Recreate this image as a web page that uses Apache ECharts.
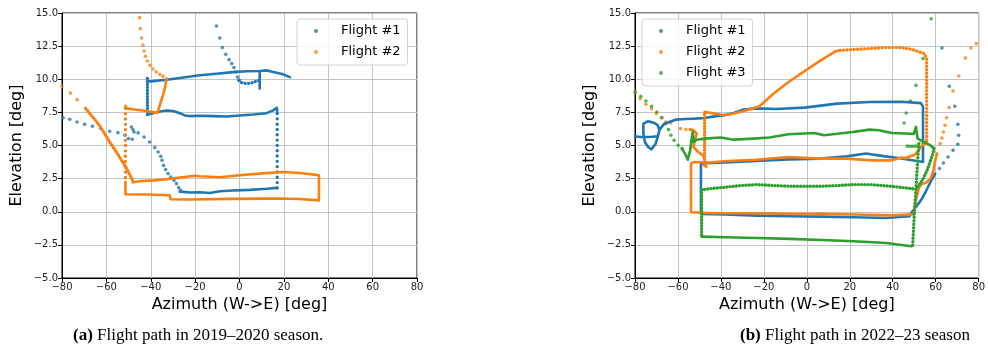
<!DOCTYPE html>
<html>
<head>
<meta charset="utf-8">
<script src="https://cdn.jsdelivr.net/npm/echarts@6/dist/echarts.min.js"></script>
<style>
  html, body { margin: 0; padding: 0; background: #fff; }
  #chart { width: 988px; height: 360px; }
</style>
</head>
<body>
<div id="chart"></div>
<script>
// tick labels
const xTicks = [-80, -60, -40, -20, 0, 20, 40, 60, 80];
const yTicks = [-5, -2.5, 0, 2.5, 5, 7.5, 10, 12.5, 15];
const flights = ['Flight #1', 'Flight #2', 'Flight #3'];
const colors = ['#1f77b4', '#ff7f0e', '#2ca02c'];

// ---- (a) 2019-2020, flight #1 ----
const a1Sparse = [[-79.5,7.1],[-76.5,6.98],[-73.2,6.77],[-69.8,6.6],[-66.3,6.45],[-62.6,6.3],[-58.5,6.07],
  [-54.8,5.97],[-51.7,5.77],[-50,5.52],[-48.3,5.47],[-48.7,6.4],[-48,6.2],[-47.5,6.02],[-45.7,5.95],
  [-43,5.64],[-40.5,5.26],[-38.2,4.84],[-36.7,4.51],[-35.5,4.18],[-34.9,3.88],[-34.2,3.5],[-33.3,3.18],
  [-32.2,2.88],[-31,2.62],[-29.5,2.37],[-28.4,2.12],[-27.4,1.82],[-26.6,1.62],
  [-10.4,14.02],[-8.9,13.11],[-7.7,12.39],[-6.2,11.88],[-4.7,11.48],[-3.5,11.18],[-2.5,10.88],[-1.7,10.55],
  [-0.9,10.17],[-0.2,9.92]];
const a1Bottom = [[-26.9,1.52],[-22,1.45],[-17.9,1.47],[-13.4,1.42],[-8.9,1.55],[-2.9,1.6],[4.7,1.65],[12.2,1.73],[16.9,1.8]];
const a1Drop = [[17,1.8],[17,7.6]];
const a1Mid = [[17,7.6],[16.8,7.85],[15.2,7.65],[12.2,7.44],[6.2,7.34],[0.2,7.27],[-5.9,7.19],[-11.9,7.22],
  [-17.9,7.24],[-22.4,7.22],[-24.7,7.27],[-26.9,7.44],[-29.9,7.6],[-32.9,7.64],[-35.9,7.57],[-38.9,7.44],[-41.5,7.34]];
const a1Rise = [[-41.5,7.34],[-41.5,10.07]];
const a1Top = [[-41.5,9.84],[-38.9,9.86],[-32.9,9.96],[-26.9,10.1],[-17.9,10.3],[-10.4,10.42],[-2.9,10.54],
  [3.2,10.6],[9.2,10.62],[12.2,10.67],[15.2,10.54],[19.7,10.37],[22.7,10.16]];
const a1Hook = [[-0.2,9.92],[0.8,9.75],[3.1,9.67],[5.4,9.72],[7.6,9.85],[8.8,9.92]];
const a1HookBar = [[9.1,10.6],[9.1,9.3]];

// ---- (a) 2019-2020, flight #2 ----
const a2Sparse = [[-45,14.65],[-44.7,13.82],[-44.1,13.11],[-43.5,12.58],[-43,12.13],[-42.4,11.73],[-41.5,11.38],
  [-40.3,11.05],[-39,10.77],[-37.5,10.55],[-35.9,10.37],[-34.5,10.22],
  [-73.2,8.46],[-76.2,8.96],[-80,9.47]];
const a2Drop = [[-32.9,10.05],[-33.7,9.29],[-34.5,8.79],[-35.5,8.28],[-36.4,7.78],[-37,7.45],
  [-38.2,7.5],[-42.7,7.62],[-47.2,7.72],[-51,7.8],[-51.4,8.0]];
const a2Fall = [[-51.4,7.8],[-51.4,2.25]];
const a2Box = [[-51.4,2.25],[-51.4,1.32],[-41.2,1.3],[-31.5,1.24],[-31,0.94],[-23.2,0.92],[-2.9,0.97],
  [12.1,0.99],[18.1,1.0],[27.1,0.96],[35.8,0.86],[35.8,2.75],[34.6,2.78],[27.1,2.92],[19.6,3.0],[9.1,2.88],
  [0.1,2.75],[-8.9,2.6],[-18,2.68],[-20.2,2.72],[-24.7,2.62],[-30.7,2.5],[-38.2,2.37],[-44.2,2.32],[-48,2.22],[-48.5,2.5]];
const a2Slope = [[-48.5,2.5],[-49.9,2.93],[-51.4,3.43],[-53.2,3.88],[-55,4.39],[-57,4.89],[-59,5.39],
  [-60.8,5.9],[-62.7,6.4],[-64.9,6.9],[-67.5,7.41],[-70.1,7.96]];

// ---- (b) 2022-23, flight #1 ----
const b1Track = [[-80,5.7],[-77.6,5.64],[-75.3,5.64],[-72,5.66],[-69.4,5.7],[-68.6,6.15],[-69.4,6.52],
  [-70.9,6.7],[-73.9,6.83],[-76.1,6.65],[-76.1,5.9],[-75.4,5.26],[-73.9,4.89],[-72.3,4.71],[-70.4,5.14],
  [-69.4,5.64],[-68.6,6.2],[-66.3,6.65],[-64.1,6.77],[-61.1,6.95],[-56.6,7.0],[-52.1,7.03],[-47.6,7.08],
  [-43,7.2],[-38.5,7.28],[-34,7.45],[-29.5,7.71],[-25,7.78],[-19,7.78],[-14.5,7.75],[-1,7.86],[14,8.16],
  [29.1,8.28],[44.1,8.3],[53.1,8.2],[54.1,7.95],[54.1,3.75],[50.5,3.85],[42.6,4.06],[36.5,4.18],[27.5,4.39],
  [18.5,4.18],[6.5,4.01],[-8.5,3.95],[-23.5,3.83],[-38.2,3.72],[-47.2,3.66],[-49.3,3.6],[-49.3,-0.16],
  [-38.2,-0.21],[-23.2,-0.29],[-8.1,-0.34],[6.9,-0.37],[21.9,-0.42],[37,-0.47],[47.8,-0.34],[48.9,-0.02],
  [50.8,0.36],[53.1,0.86],[55.3,1.49],[57.6,2.25],[59.8,2.88]];
const b1Sparse = [[61.8,3.26],[63.6,3.68],[65.8,4.13],[68.1,4.64],[70.3,5.09],[70.7,5.77],[70.3,6.6],
  [68.9,7.96],[66.3,9.47],[62.9,12.36]];

// ---- (b) 2022-23, flight #2 ----
const b2Sparse = [[-79.9,9.04],[-77.6,8.54],[-74.9,8.11],[-72.3,7.78],[-70.1,7.41],[-67.8,7.1],[-65.6,6.77],
  [-63.3,6.7],[-58.8,6.27],[-56.3,6.2],[-54.3,6.2],
  [62.1,5.14],[62.9,5.57],[63.6,6.02],[64.3,6.52],[65.1,7.1],[66.3,7.86],[68.1,9.11],[70.8,10.25],
  [73.8,11.6],[76.4,12.36],[78.9,12.69]];
const b2Loop = [[-54.3,6.2],[-52.8,6.15],[-51.3,5.9],[-52.1,5.39],[-52.8,4.89],[-50.6,4.51],[-48.3,4.26],[-47.3,3.75],[-46.8,3.38]];
const b2Up = [[-47.6,3.5],[-47.6,7.53]];
const b2Climb = [[-47.6,7.53],[-43,7.41],[-38.5,7.28],[-34,7.41],[-28,7.66],[-22,7.96],[-16,8.85],[-8.5,9.79],
  [-1,10.62],[6.5,11.43],[13.3,12.11],[15.5,12.18]];
const b2Ceiling = [[15.5,12.18],[21.5,12.24],[36.5,12.39],[44.1,12.39],[49,12.25],[54.6,11.94],[55.8,11.6],[55.8,5.3]];
const b2Track = [[55.8,5.3],[53.1,4.89],[50.5,4.32],[46,4.05],[44.1,4.09],[39.6,3.88],[30.5,3.88],[18.5,4.01],
  [6.5,4.01],[-8.5,4.13],[-23.5,3.93],[-37,3.83],[-45.7,3.72],[-52.8,3.75],[-53.9,3.6],[-53.9,-0.04],
  [-45.7,-0.09],[-38.2,-0.11],[-23.2,-0.11],[-8.1,-0.16],[6.9,-0.16],[21.9,-0.21],[39.6,-0.27],[49.8,-0.2],
  [50.4,0.62],[52.3,1.87],[53.8,2.12],[55.3,2.17],[57.6,2.5],[58.8,3.0],[59.8,3.88],[60.6,4.39]];

// ---- (b) 2022-23, flight #3 ----
const b3Sparse = [[-79.9,9.0],[-77.3,8.71],[-74.9,8.36],[-72.3,7.96],[-69.8,7.53],[-67.4,7.1],[-65.6,6.65],
  [-64.4,6.2],[-63.3,5.77],[-61.8,5.39],[-59.9,5.01],[-58.1,4.77],
  [45.3,6.7],[46.3,7.45],[48.3,8.36],[50.8,9.54],[54.1,11.56],[57.9,14.57],
  [46.8,4.95],[48,4.94],[49.2,4.94],[50.4,4.95],[51.6,4.96]];
const b3Upper = [[-58.1,4.77],[-56.3,4.26],[-55.4,3.93],[-54.3,4.64],[-53.6,5.52],[-53.1,6.02],[-52.7,5.26],
  [-51.3,5.44],[-47.6,5.52],[-40.1,5.6],[-34,5.44],[-25,5.52],[-17.5,5.6],[-8.5,5.85],[3.5,5.94],[8,5.77],
  [21.5,6.02],[29.1,6.2],[33.6,6.15],[39.6,5.94],[45.6,5.9],[49.8,5.88],[50.8,6.4],[51.6,5.52],[53.1,5.39],
  [54.6,5.26],[57.6,5.01],[59.1,4.77]];
const b3Lower = [[59.1,4.77],[58.8,4.4],[57.6,3.88],[56,3.13],[53.8,2.37],[50.8,1.7],[48.6,1.75],[39.6,1.92],
  [29.5,2.05],[21.9,2.05],[14.4,1.98],[6.9,1.93],[-8.1,1.93],[-15.6,1.98],[-23.2,2.05],[-30.7,1.98],
  [-38.2,1.85],[-45.7,1.73],[-49,1.65]];
const b3Down = [[-49,1.65],[-49,-1.88]];
const b3Bottom = [[-49,-1.88],[-38.2,-1.93],[-23.2,-1.98],[-8.1,-2.05],[6.9,-2.13],[21.9,-2.23],[37,-2.36],
  [48.6,-2.6],[49.3,-2.53]];
const b3Return = [[49.3,-2.53],[50.1,0],[50.8,1.75],[51.6,3.88],[52.3,5.4]];

const fmt = v => (Number.isInteger(v) ? String(v) : v.toFixed(1)).replace('-', '\u2212');
const fmtY = v => v.toFixed(1).replace('-', '\u2212');

function dots(fi, gi, data) {
  return {
    name: flights[fi], type: 'scatter', xAxisIndex: gi, yAxisIndex: gi, data,
    symbolSize: 3.6, itemStyle: { color: colors[fi] }, silent: true
  };
}
function path(fi, gi, data, gap) {
  return {
    name: flights[fi], type: 'line', xAxisIndex: gi, yAxisIndex: gi, data,
    showSymbol: false, symbol: 'none', silent: true,
    itemStyle: { color: colors[fi] },
    lineStyle: gap
      ? { color: colors[fi], width: 3.4, type: [0.01, gap], cap: 'round' }
      : { color: colors[fi], width: 2.6, cap: 'round', join: 'round' }
  };
}

function xAx(gi) {
  return {
    type: 'value', gridIndex: gi, min: -80, max: 80, interval: 20,
    name: 'Azimuth (W->E) [deg]', nameLocation: 'middle', nameGap: 19,
    nameTextStyle: { fontFamily: 'DejaVu Sans', fontSize: 16, color: '#000' },
    axisLine: { onZero: false, lineStyle: { color: '#000', width: 1 } },
    axisTick: { show: true, length: 4, lineStyle: { color: '#000' } },
    axisLabel: { fontFamily: 'DejaVu Sans', fontSize: 10, color: '#222', margin: 4, formatter: fmt },
    splitLine: { show: true, lineStyle: { color: '#c4c4c4', width: 1 } }
  };
}
function yAx(gi) {
  return {
    type: 'value', gridIndex: gi, min: -5, max: 15, interval: 2.5,
    name: 'Elevation [deg]', nameLocation: 'middle', nameGap: 37, nameRotate: 90,
    nameTextStyle: { fontFamily: 'DejaVu Sans', fontSize: 16, color: '#000' },
    axisLine: { onZero: false, lineStyle: { color: '#000', width: 1 } },
    axisTick: { show: true, length: 4, lineStyle: { color: '#000' } },
    axisLabel: { fontFamily: 'DejaVu Sans', fontSize: 10, color: '#222', margin: 4, formatter: fmtY },
    splitLine: { show: true, lineStyle: { color: '#c4c4c4', width: 1 } }
  };
}
function legendAt(left, names) {
  return {
    left, top: 19, orient: 'vertical', data: names.map(n => ({ name: n, icon: 'circle' })),
    itemWidth: 4, itemHeight: 4, itemGap: 5, padding: [4, 7, 5, 17],
    backgroundColor: 'rgba(255,255,255,0.85)', borderColor: '#d4d4d4', borderWidth: 1, borderRadius: 3,
    selectedMode: false,
    textStyle: { fontFamily: 'DejaVu Sans', fontSize: 13, color: '#000', lineHeight: 16, padding: [0, 0, 0, 18] }
  };
}

const chart = echarts.init(document.getElementById('chart'), null, { renderer: 'canvas' });
chart.setOption({
  animation: false,
  backgroundColor: '#fff',
  title: [
    { text: '{b|(a)} Flight path in 2019\u20132020 season.', left: 68, top: 322,
      textStyle: { fontFamily: 'Liberation Serif', fontSize: 17, fontWeight: 'normal', color: '#000',
        rich: { b: { fontFamily: 'Liberation Serif', fontSize: 17, fontWeight: 'bold', color: '#000' } } } },
    { text: '{b|(b)} Flight path in 2022\u201323 season', left: 735, top: 322,
      textStyle: { fontFamily: 'Liberation Serif', fontSize: 17, fontWeight: 'normal', color: '#000',
        rich: { b: { fontFamily: 'Liberation Serif', fontSize: 17, fontWeight: 'bold', color: '#000' } } } }
  ],
  grid: [
    { left: 62, top: 13, width: 355, height: 265, show: true, borderColor: '#000', borderWidth: 1, backgroundColor: 'transparent' },
    { left: 635, top: 13, width: 355, height: 265, show: true, borderColor: '#000', borderWidth: 1, backgroundColor: 'transparent' }
  ],
  xAxis: [xAx(0), xAx(1)],
  yAxis: [yAx(0), yAx(1)],
  legend: [legendAt(297, flights.slice(0, 2)), legendAt(642, flights)],
  series: [
    dots(0, 0, a1Sparse),
    path(0, 0, a1Bottom), path(0, 0, a1Drop, 5.3), path(0, 0, a1Mid), path(0, 0, a1Rise, 3),
    path(0, 0, a1Top), path(0, 0, a1Hook, 3.5), path(0, 0, a1HookBar),
    dots(1, 0, a2Sparse),
    path(1, 0, a2Drop), path(1, 0, a2Fall, 5.3), path(1, 0, a2Box), path(1, 0, a2Slope, 3),
    path(0, 1, b1Track), dots(0, 1, b1Sparse),
    dots(1, 1, b2Sparse), path(1, 1, b2Loop), path(1, 1, b2Up, 3), path(1, 1, b2Climb),
    path(1, 1, b2Ceiling, 3.5), path(1, 1, b2Track),
    dots(2, 1, b3Sparse), path(2, 1, b3Upper), path(2, 1, b3Lower, 3.2), path(2, 1, b3Down, 3),
    path(2, 1, b3Bottom), path(2, 1, b3Return, 3.5)
  ]
});
</script>
</body>
</html>
